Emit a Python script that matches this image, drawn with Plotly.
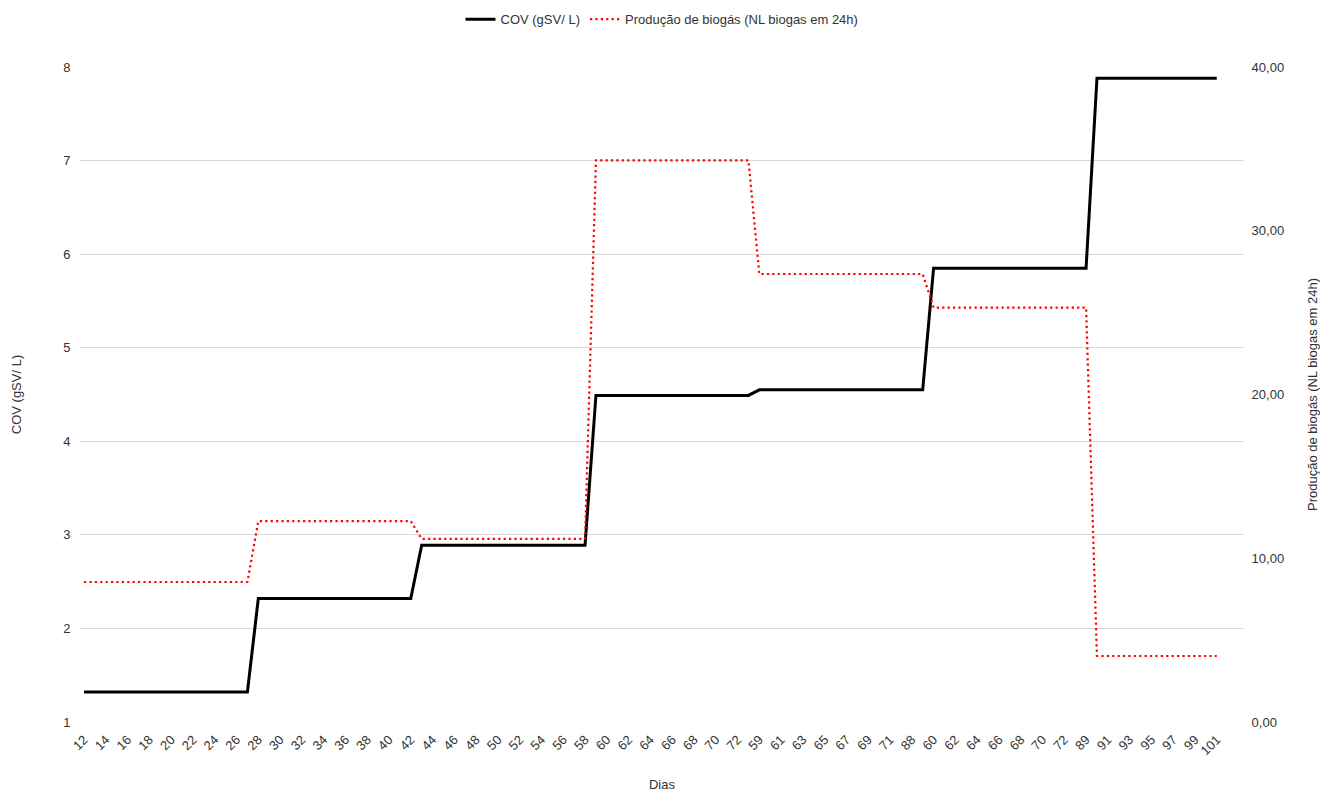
import plotly.graph_objects as go

# Day labels for each sample (categories, in chart order)
dias = (list(range(12, 74)) + list(range(59, 73)) + [88]
        + list(range(59, 73)) + list(range(88, 102)))

# COV (gSV/ L) per sample, read as step levels
cov = ([1.32] * 16 + [2.32] * 15 + [2.89] * 16 + [4.49] * 15
       + [4.55] * 16 + [5.85] * 15 + [7.88] * 12)

# Produção de biogás (NL biogas em 24h) per sample
biogas = ([8.55] * 16 + [12.27] * 15 + [11.18] * 16 + [34.3] * 15
          + [27.36] * 16 + [25.3] * 15 + [4.03] * 12)

left_ticks = [1, 2, 3, 4, 5, 6, 7, 8]
right_ticks = [0, 10, 20, 30, 40]

x = list(range(len(dias)))
tickvals = x[::2]
ticktext = [str(d) for d in dias[::2]]

FONT = "Liberation Sans, Arial, sans-serif"
TXT = "#333333"

fig = go.Figure()
fig.add_trace(go.Scatter(
    x=x, y=cov, name="COV (gSV/ L)", mode="lines",
    line=dict(color="#000000", width=3),
    yaxis="y",
))
fig.add_trace(go.Scatter(
    x=x, y=biogas, name="Produção de biogás (NL biogas em 24h)", mode="lines",
    line=dict(color="#ff0000", width=2.2, dash="2.2px,3.2px"),
    yaxis="y2",
))

# page body has an 8px margin, so the figure is shifted by 8px; compensate
fig.update_layout(
    width=1320, height=784,
    margin=dict(l=72, r=84, t=59, b=70, autoexpand=False),
    paper_bgcolor="white", plot_bgcolor="white",
    font=dict(family=FONT, size=13, color=TXT),
    separators=",.",
    showlegend=True,
    legend=dict(orientation="h", x=0.5, xanchor="center",
                y=1.073, yanchor="middle", yref="paper",
                font=dict(size=13, color=TXT), itemwidth=30),
    xaxis=dict(
        range=[-0.37, len(dias) - 1 + 2.5], automargin=False,
        tickmode="array", tickvals=tickvals, ticktext=ticktext,
        tickangle=-45, showgrid=False, zeroline=False,
        showline=False, ticks="outside", ticklen=4,
        tickcolor="rgba(0,0,0,0)",
        tickfont=dict(size=13, color=TXT),
        title=dict(text="Dias", font=dict(size=13, color=TXT), standoff=32),
    ),
    yaxis=dict(
        range=[1, 8], tickmode="array", tickvals=left_ticks, automargin=False,
        showgrid=True, gridcolor="#d9d9d9", gridwidth=1, zeroline=False,
        ticks="outside", ticklen=6, tickcolor="rgba(0,0,0,0)",
        tickfont=dict(size=13, color=TXT),
        title=dict(text="COV (gSV/ L)", font=dict(size=13, color=TXT), standoff=38),
    ),
    yaxis2=dict(
        range=[0, 40], overlaying="y", side="right", automargin=False,
        tickmode="array", tickvals=right_ticks, tickformat=".2f",
        showgrid=False, zeroline=False,
        ticks="outside", ticklen=4, tickcolor="rgba(0,0,0,0)",
        tickfont=dict(size=13, color=TXT),
        title=dict(text="Produção de biogás (NL biogas em 24h)",
                   font=dict(size=13, color=TXT), standoff=24),
    ),
)

fig.write_html("out.html")
